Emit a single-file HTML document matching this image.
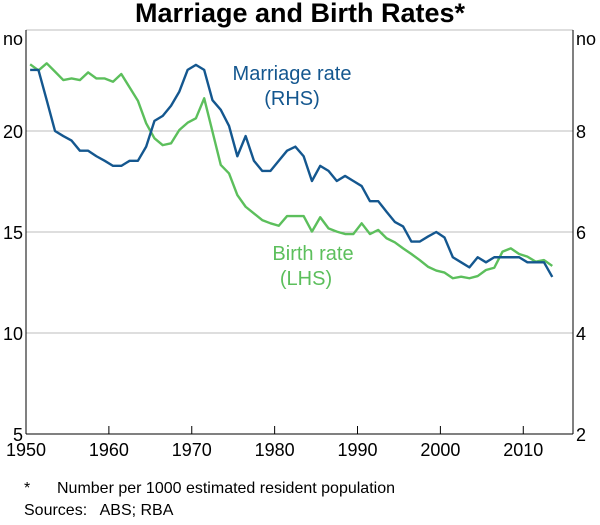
<!DOCTYPE html>
<html><head><meta charset="utf-8"><style>
body{margin:0;background:#fff;font-family:"Liberation Sans",Arial,sans-serif}
svg text{font-family:"Liberation Sans",Arial,sans-serif;white-space:pre}
</style></head><body>
<svg id="c" width="600" height="520" viewBox="0 0 600 520">
<text x="300" y="22" text-anchor="middle" font-size="27" font-weight="bold" fill="#000">Marriage and Birth Rates*</text>
<g id="grid"></g>
<g id="axes"></g>
<g id="series"></g>
<text x="292" y="80" text-anchor="middle" font-size="20" fill="#14578f">Marriage rate</text>
<text x="292" y="105" text-anchor="middle" font-size="20" fill="#14578f">(RHS)</text>
<text x="313" y="260" text-anchor="middle" font-size="20" fill="#5cbf5c">Birth rate</text>
<text x="306" y="285" text-anchor="middle" font-size="20" fill="#5cbf5c">(LHS)</text>
<text x="24" y="493" font-size="16" fill="#000">*</text>
<text x="57" y="493" font-size="16" fill="#000">Number per 1000 estimated resident population</text>
<text x="24" y="515" font-size="16" fill="#000">Sources:   ABS; RBA</text>
</svg>
<script>
const years=[];for(let y=1950.5;y<2014;y++)years.push(y);
const marriage=[9.21,9.21,8.61,8.0,7.9,7.81,7.61,7.61,7.5,7.41,7.31,7.31,7.41,7.41,7.69,8.2,8.3,8.5,8.78,9.21,9.31,9.21,8.61,8.42,8.1,7.5,7.9,7.41,7.21,7.21,7.41,7.61,7.69,7.5,7.01,7.31,7.21,7.01,7.11,7.01,6.91,6.61,6.61,6.4,6.2,6.11,5.81,5.81,5.91,6.0,5.89,5.5,5.4,5.3,5.5,5.4,5.5,5.5,5.5,5.5,5.4,5.4,5.4,5.11];
const birth=[23.3,23.0,23.35,22.94,22.52,22.6,22.52,22.9,22.6,22.6,22.44,22.82,22.16,21.5,20.38,19.64,19.3,19.39,20.05,20.41,20.63,21.62,19.97,18.32,17.9,16.83,16.25,15.92,15.59,15.43,15.31,15.79,15.79,15.79,15.02,15.73,15.18,15.02,14.9,14.9,15.43,14.9,15.1,14.69,14.49,14.19,13.91,13.61,13.28,13.09,12.99,12.71,12.79,12.71,12.82,13.12,13.23,14.03,14.19,13.91,13.78,13.53,13.61,13.32];
const leftTicks=[5,10,15,20,25];
const rightTicks=[2,4,6,8,10];
const xTicks=[1950,1960,1970,1980,1990,2000,2010];
const L=26,R=573,T=30,B=434;
const X=y=>L+(y-1950)*(R-L)/66;
const YL=v=>B-(v-5)*(B-T)/20;
const YR=v=>B-(v-2)*(B-T)/8;
const NS='http://www.w3.org/2000/svg';
function mk(p,t,a){const e=document.createElementNS(NS,t);for(const k in a)e.setAttribute(k,a[k]);document.getElementById(p).appendChild(e);return e;}
leftTicks.forEach((v,i)=>{
 if(v>5&&v<25){const g=mk('grid','line',{x1:L,x2:R,y1:YL(v),y2:YL(v),stroke:'#bdbdbd','stroke-width':1});
 
 }
 const t=mk('axes','text',{x:L-3,y:YL(v)+(v==25?15:7),'text-anchor':'end','font-size':18,fill:'#000'});t.textContent=v==25?'no':v;
 
 
 const r=mk('axes','text',{x:R+3,y:YR(rightTicks[i])+(v==25?15:7),'font-size':18,fill:'#000'});r.textContent=v==25?'no':rightTicks[i];
 
 
});
const topBorder=mk('axes','line',{x1:L,x2:R,y1:T,y2:T,stroke:'#bdbdbd'});


[L,R].forEach(a=>{const l=mk('axes','line',{x1:a,x2:a,y1:T,y2:B,stroke:'#000'});
 
 });
const xa=mk('axes','line',{x1:L,x2:R,y1:B,y2:B,stroke:'#000'});


xTicks.forEach(y=>{
 const tk=mk('axes','line',{x1:X(y),x2:X(y),y1:B,y2:B-8,stroke:'#000'});
 
 
 const t=mk('axes','text',{x:X(y),y:B+22,'text-anchor':'middle','font-size':18,fill:'#000'});t.textContent=y;
 
 
});
const pb=mk('series','polyline',{points:years.map((y,i)=>X(y)+','+YL(birth[i])).join(' '),fill:'none',stroke:'#5cbf5c','stroke-width':2.4,'stroke-linejoin':'round'});


const pm=mk('series','polyline',{points:years.map((y,i)=>X(y)+','+YR(marriage[i])).join(' '),fill:'none',stroke:'#14578f','stroke-width':2.4,'stroke-linejoin':'round'});


</script>
</body></html>
